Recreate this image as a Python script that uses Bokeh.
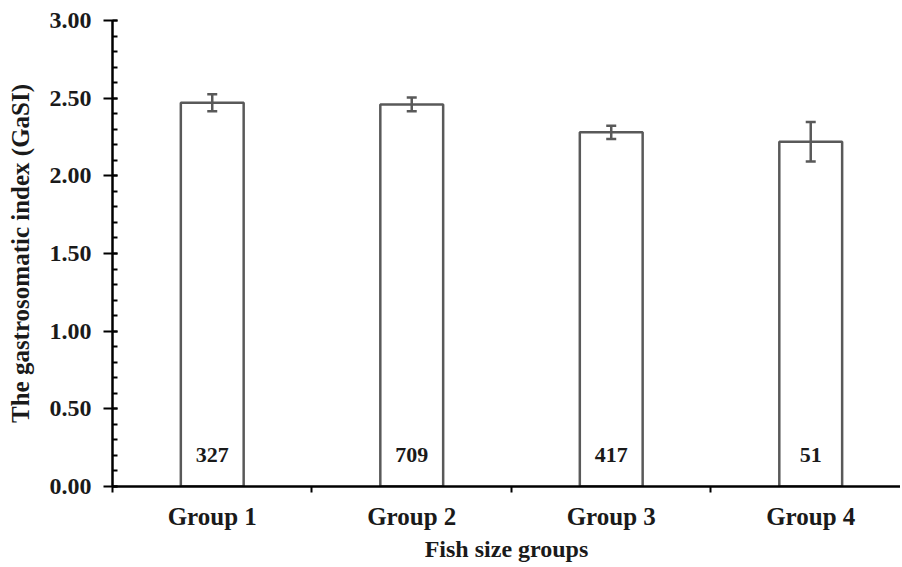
from bokeh.plotting import figure
from bokeh.models import FixedTicker, ColumnDataSource, Whisker, TeeHead, Range1d
from bokeh.core.properties import value
from bokeh.embed import file_html
from bokeh.resources import INLINE

groups = ["Group 1", "Group 2", "Group 3", "Group 4"]
gasi_mean = [2.47, 2.46, 2.28, 2.22]
gasi_se = [0.055, 0.045, 0.043, 0.127]
counts = ["327", "709", "417", "51"]

xs = [i + 0.5 for i in range(len(groups))]
upper = [m + s for m, s in zip(gasi_mean, gasi_se)]
lower = [m - s for m, s in zip(gasi_mean, gasi_se)]

src = ColumnDataSource(dict(x=xs, top=gasi_mean, upper=upper, lower=lower,
                            counts=counts, ly=[0.2] * len(xs)))

FONT = "Liberation Serif"
GRAY = "#595959"
TXT = "#1a1a1a"

p = figure(width=900, height=565, output_backend="svg", toolbar_location=None,
           x_range=Range1d(0, 3.95), y_range=Range1d(0, 3.0),
           min_border_left=112, min_border_right=0, min_border_top=20,
           min_border_bottom=79)
p.outline_line_color = None
p.grid.visible = False
p.background_fill_color = "white"

p.vbar(x="x", top="top", width=0.315, bottom=0, source=src,
       fill_color="white", line_color=GRAY, line_width=2.5)

w = Whisker(base="x", upper="upper", lower="lower", source=src,
            line_color=GRAY, line_width=2.5, level="annotation",
            upper_head=TeeHead(size=10, line_color=GRAY, line_width=2.5),
            lower_head=TeeHead(size=10, line_color=GRAY, line_width=2.5))
p.add_layout(w)

p.text(x="x", y="ly", text="counts", source=src, text_align="center",
       text_baseline="middle", text_font=value(FONT), text_font_style="bold",
       text_font_size="22px", text_color=TXT)

# y axis
yticks = [0, 0.5, 1.0, 1.5, 2.0, 2.5, 3.0]
p.yaxis.ticker = FixedTicker(ticks=yticks, minor_ticks=[i / 10 for i in range(31)])
p.yaxis.major_label_overrides = {t: f"{t:.2f}" for t in yticks}
p.yaxis.major_tick_in = 5
p.yaxis.major_tick_out = 9
p.yaxis.minor_tick_in = 5
p.yaxis.minor_tick_out = 0
p.yaxis.axis_label = "The gastrosomatic index (GaSI)"

# x axis
p.xaxis.ticker = FixedTicker(ticks=xs, minor_ticks=[0, 1, 2, 3])
p.xaxis.major_label_overrides = {x: g for x, g in zip(xs, groups)}
p.xaxis.minor_tick_in = 0
p.xaxis.minor_tick_out = 6
p.xaxis.axis_label = "Fish size groups"

for ax in (p.xaxis[0], p.yaxis[0]):
    ax.axis_line_color = "black"
    ax.axis_line_width = 2.5
    ax.major_tick_line_color = "black"
    ax.major_tick_line_width = 2
    ax.minor_tick_line_width = 2
    ax.minor_tick_line_color = "black"
    ax.major_label_text_font = FONT
    ax.major_label_text_font_style = "bold"
    ax.major_label_text_color = TXT
    ax.axis_label_text_font = FONT
    ax.axis_label_text_font_style = "bold"
    ax.axis_label_text_color = TXT

p.xaxis.major_tick_line_color = None
p.yaxis.major_label_text_font_size = "24px"
p.xaxis.major_label_text_font_size = "25px"
p.yaxis.axis_label_text_font_size = "25px"
p.xaxis.axis_label_text_font_size = "24px"
p.yaxis.major_label_standoff = 12
p.xaxis.major_label_standoff = 10
p.yaxis.axis_label_standoff = 13
p.xaxis.axis_label_standoff = 3

open("out.html", "w").write(file_html(p, INLINE))
